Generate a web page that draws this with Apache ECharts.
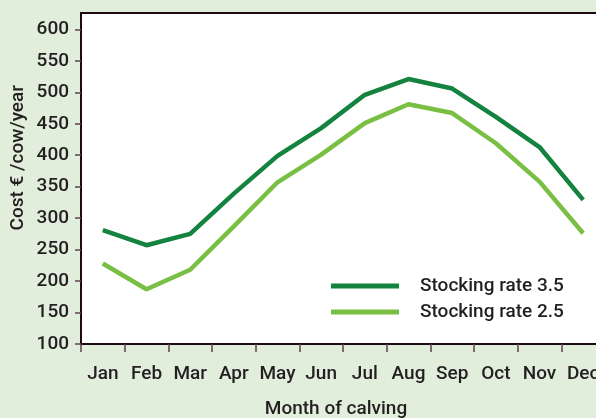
<!DOCTYPE html>
<html>
<head>
<meta charset="utf-8">
<script src="https://cdn.jsdelivr.net/npm/echarts@6/dist/echarts.min.js"></script>
<style>
html,body{margin:0;padding:0;background:#e0eedb;}
#c{width:596px;height:418px;}
</style>
</head>
<body>
<div id="c"></div>
<script>
var months = ['Jan','Feb','Mar','Apr','May','Jun','Jul','Aug','Sep','Oct','Nov','Dec'];
var rate35 = [281, 257, 275, 339, 399, 443, 496, 521, 506, 461, 413, 329];
var rate25 = [228, 187, 218, 287, 357, 401, 451, 481, 467, 419, 358, 276];
var yTicks = [100,150,200,250,300,350,400,450,500,550,600];
var seriesNames = ['Stocking rate 3.5','Stocking rate 2.5'];

var FONT = 'Roboto, "Liberation Sans", Arial, sans-serif';
var FW = 500;
var TXT = '#231f20';
var chart = echarts.init(document.getElementById('c'), null, {renderer:'canvas'});
chart.setOption({
  backgroundColor: '#e0eedb',
  animation: false,
  textStyle: {fontFamily: FONT},
  grid: {
    left: 81, top: 13, bottom: 74, width: 524,
    containLabel: false,
    outerBoundsMode: 'none',
    show: true, backgroundColor: '#ffffff',
    borderColor: '#1e0a16', borderWidth: 2
  },
  legend: {
    orient: 'vertical',
    left: 326, top: 271,
    itemWidth: 68, itemHeight: 5, itemGap: 6,
    icon: 'rect',
    textStyle: {fontSize: 19, fontWeight: FW, color: TXT, fontFamily: FONT, lineHeight: 20, padding: [0,0,0,16]},
    data: seriesNames
  },
  xAxis: {
    type: 'category',
    data: months,
    boundaryGap: true,
    name: 'Month of calving',
    nameLocation: 'middle',
    nameGap: 56,
    nameTextStyle: {fontSize: 19, fontWeight: FW, color: TXT, fontFamily: FONT, padding: [0,14,0,0]},
    axisLine: {lineStyle: {color: '#1e0a16', width: 2}},
    axisTick: {show: true, length: 8, lineStyle: {color: '#5c4352', width: 1.5}},
    axisLabel: {fontSize: 19, fontWeight: FW, color: TXT, fontFamily: FONT, margin: 21, interval: 0},
    splitLine: {show: false}
  },
  yAxis: {
    type: 'value',
    min: 100, max: 626, interval: 50,
    axisLine: {show: true, lineStyle: {color: '#1e0a16', width: 2}},
    axisTick: {show: true, length: 6, lineStyle: {color: '#5c4352', width: 1.5}, customValues: yTicks},
    axisLabel: {fontSize: 19, fontWeight: FW, color: TXT, fontFamily: FONT, margin: 12, customValues: yTicks},
    splitLine: {show: false}
  },
  graphic: [{
    type: 'text',
    left: 9, top: 85,
    rotation: Math.PI/2,
    style: {text: 'Cost € /cow/year', font: FW + ' 19px ' + FONT, fill: TXT}
  }],
  series: [
    {name: seriesNames[0], type: 'line', data: rate35, symbol: 'none',
     lineStyle: {color: '#13833f', width: 4.5}, itemStyle: {color: '#13833f'}},
    {name: seriesNames[1], type: 'line', data: rate25, symbol: 'none',
     lineStyle: {color: '#79bf43', width: 4.5}, itemStyle: {color: '#79bf43'}}
  ]
});
</script>
</body>
</html>
